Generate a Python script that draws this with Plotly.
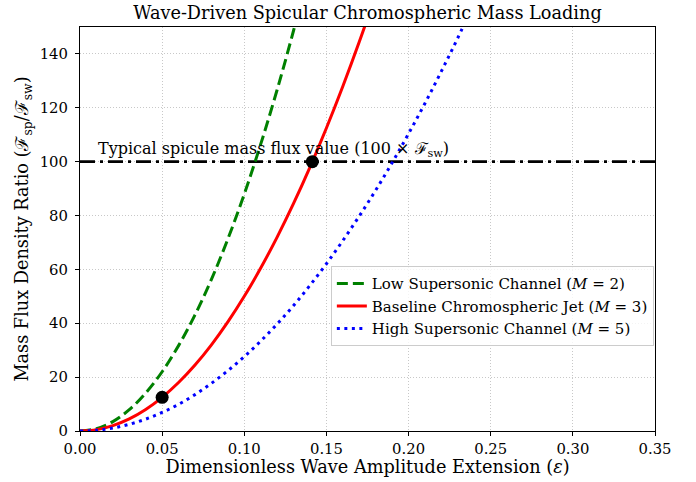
import plotly.graph_objects as go

eps = [0.00, 0.01, 0.02, 0.03, 0.04, 0.05, 0.06, 0.07, 0.08, 0.09, 0.10, 0.11, 0.12,
       0.13, 0.14, 0.15, 0.16, 0.17, 0.18, 0.19, 0.20, 0.21, 0.22, 0.23, 0.24]
low_m2 = [0, 0.88, 3.5, 7.9, 14.1, 22.0, 31.7, 43.1, 56.3, 71.3, 88.0, 106.5, 126.7,
          148.7, 172.5]
base_m3 = [0, 0.5, 2.0, 4.5, 8.0, 12.5, 18.0, 24.5, 32.0, 40.5, 50.0, 60.5, 72.0,
           84.5, 98.0, 112.5, 128.0, 144.5, 162.0]
high_m5 = [0, 0.28, 1.1, 2.5, 4.4, 6.9, 9.9, 13.5, 17.7, 22.4, 27.6, 33.4, 39.7,
           46.6, 54.1, 62.1, 70.7, 79.8, 89.4, 99.6, 110.4, 121.7, 133.6, 146.0, 159.0]
marker_x = [0.05, 0.1414]
marker_y = [12.5, 100.0]
ref_value = 100
x_ticks = [0.00, 0.05, 0.10, 0.15, 0.20, 0.25, 0.30, 0.35]
y_ticks = [0, 20, 40, 60, 80, 100, 120, 140]

FONT = "DejaVu Serif"
fig = go.Figure()

fig.add_trace(go.Scatter(x=[0, 0.35], y=[ref_value, ref_value], mode="lines",
                         line=dict(color="black", width=2.6, dash="15px,5px,3px,5px"),
                         showlegend=False, hoverinfo="skip"))
fig.add_trace(go.Scatter(x=eps[:len(low_m2)], y=low_m2, mode="lines", line_shape="spline",
                         line=dict(color="green", width=3, dash="11px,5px"),
                         name="Low Supersonic Channel (<i>M</i> = 2)"))
fig.add_trace(go.Scatter(x=eps[:len(base_m3)], y=base_m3, mode="lines", line_shape="spline",
                         line=dict(color="red", width=3),
                         name="Baseline Chromospheric Jet (<i>M</i> = 3)"))
fig.add_trace(go.Scatter(x=eps[:len(high_m5)], y=high_m5, mode="lines", line_shape="spline",
                         line=dict(color="blue", width=3, dash="3px,4.5px"),
                         name="High Supersonic Channel (<i>M</i> = 5)"))
fig.add_trace(go.Scatter(x=marker_x, y=marker_y, mode="markers",
                         marker=dict(color="black", size=13), showlegend=False,
                         cliponaxis=False))

fig.add_annotation(x=0.01, y=ref_value, xanchor="left", yanchor="bottom", yshift=0,
                   text="Typical spicule mass flux value (100 × ℱ<sub>sw</sub>)",
                   showarrow=False, font=dict(family=FONT, size=16, color="black"))

axis_common = dict(showline=True, linecolor="black", linewidth=1.2, mirror=True,
                   ticks="outside", ticklen=4, tickcolor="black", automargin=False,
                   showgrid=True, gridcolor="#c8c8c8", griddash="1px,2px", gridwidth=1,
                   zeroline=False, tickfont=dict(family=FONT, size=14.8, color="black"))

fig.update_layout(
    width=696, height=482,
    margin=dict(l=80, r=41, t=27, b=51),
    paper_bgcolor="white", plot_bgcolor="white",
    title=dict(text="Wave-Driven Spicular Chromospheric Mass Loading",
               x=(80 + 655) / 2 / 696, xanchor="center", y=1 - 13 / 482, yanchor="middle",
               font=dict(family=FONT, size=17.7, color="black")),
    xaxis=dict(range=[0, 0.35], tickvals=x_ticks, tickformat=".2f", ticklabelstandoff=0,
               title=dict(text="Dimensionless Wave Amplitude Extension (<i>ε</i>)",
                          font=dict(family=FONT, size=17.7, color="black"), standoff=3),
               **axis_common),
    yaxis=dict(range=[0, 150], tickvals=y_ticks, ticklabelstandoff=4,
               title=dict(text="Mass Flux Density Ratio (ℱ<sub>sp</sub>/ℱ<sub>sw</sub>)",
                          font=dict(family=FONT, size=17.7, color="black"), standoff=6),
               **axis_common),
    legend=dict(x=0.998, y=0.408, xanchor="right", yanchor="top",
                bgcolor="rgba(255,255,255,0.8)", bordercolor="#cccccc", borderwidth=1,
                font=dict(family=FONT, size=15, color="black"), tracegroupgap=0,
                itemwidth=30),
    showlegend=True,
)

fig.write_html("out.html", config={"displayModeBar": False},
               post_script="document.body.style.margin='0';")
